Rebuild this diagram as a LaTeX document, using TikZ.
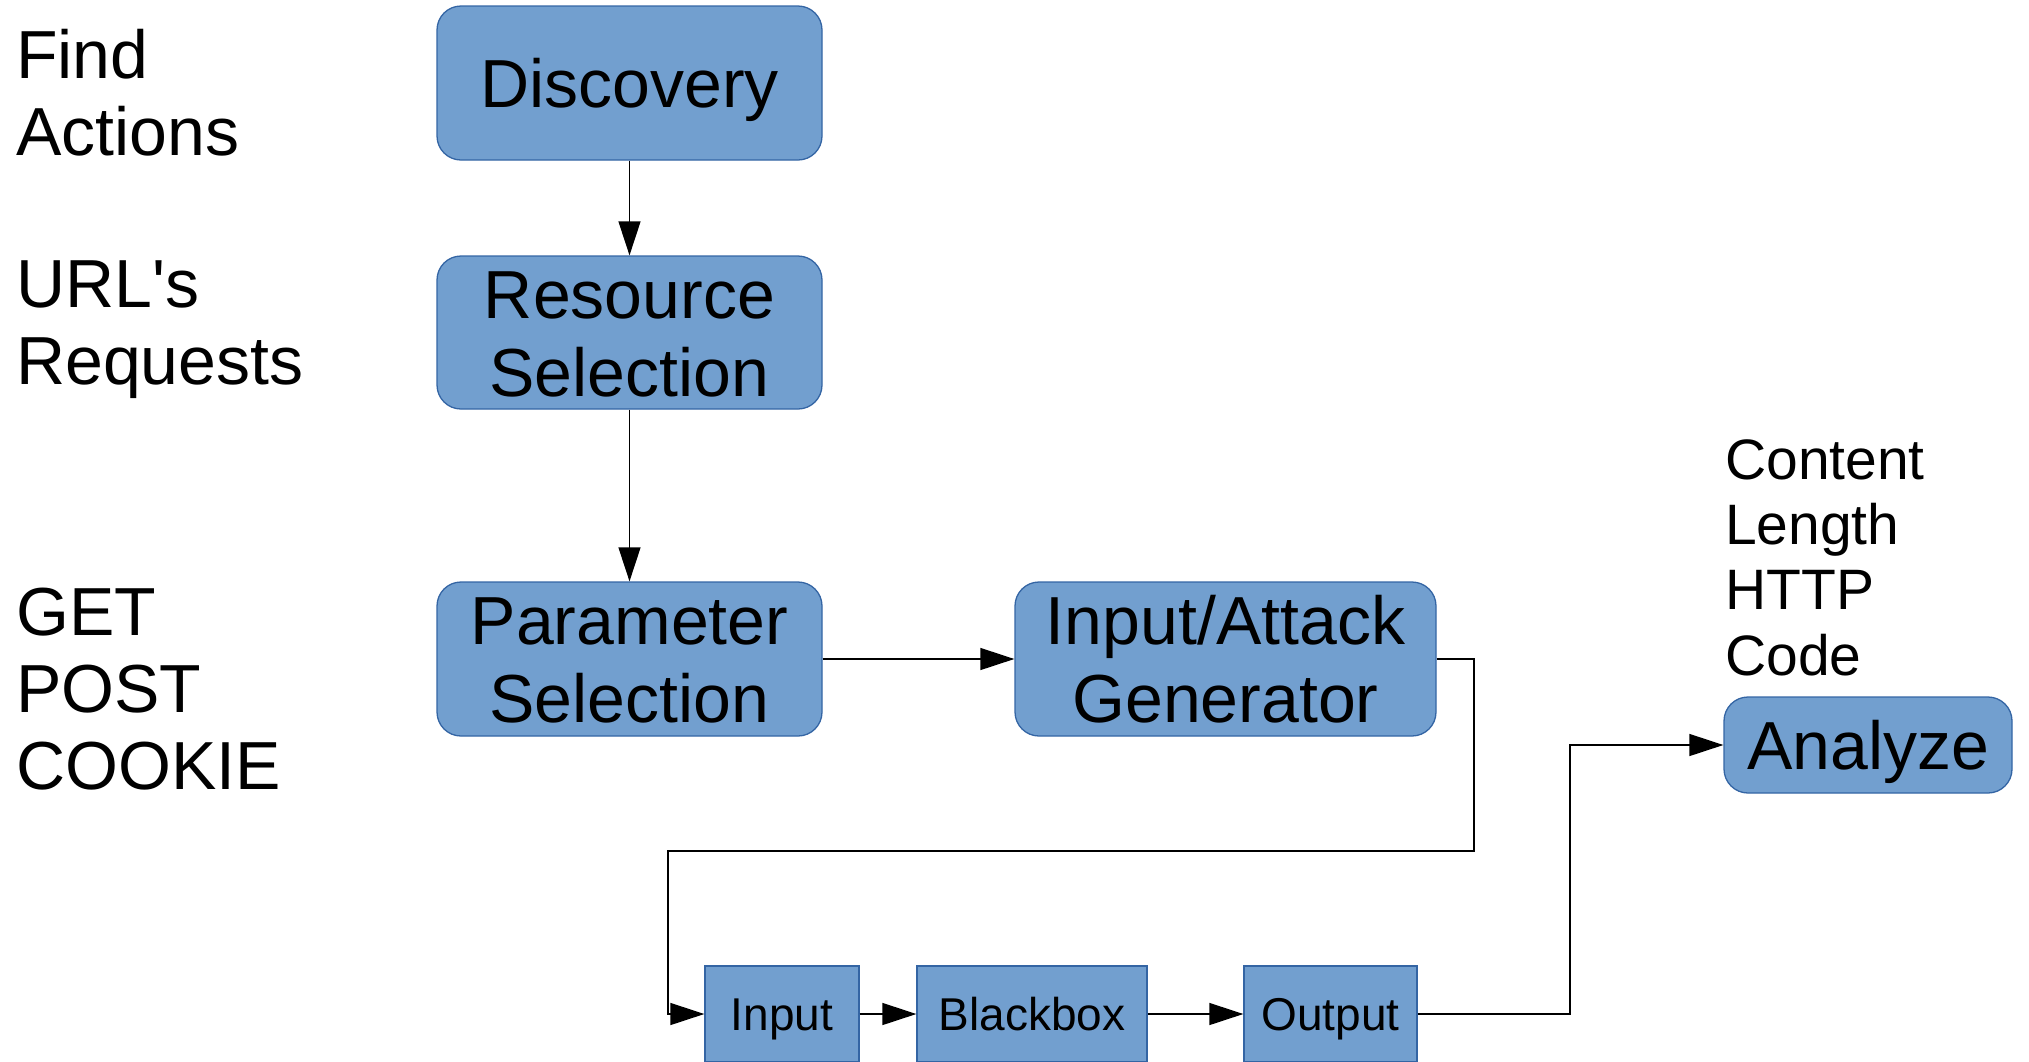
\documentclass[tikz,border=0pt]{standalone}
\usepackage{fontspec}
\setmainfont{Liberation Sans}[Ligatures=TeXOff]
\usetikzlibrary{arrows.meta}
\definecolor{boxfill}{HTML}{729FCF}
\definecolor{boxline}{HTML}{3465A4}
\begin{document}
\begin{tikzpicture}[x=1pt,y=-1pt,
  stage/.style={draw=boxline, fill=boxfill, line width=1.3pt, rounded corners=24pt,
    inner sep=0pt, align=center, font=\fontsize{68}{78}\selectfont,
    text height=49pt, text depth=0pt},
  twoline/.style={text height=127pt},
  block/.style={draw=boxline, fill=boxfill, line width=1.3pt, inner sep=0pt,
    minimum height=96pt, font=\fontsize{46}{54}\selectfont,
    text height=33pt, text depth=0pt},
  note/.style={inner sep=0pt, anchor=base west, align=left,
    font=\fontsize{68}{77}\selectfont},
  smallnote/.style={inner sep=0pt, anchor=base west, align=left,
    font=\fontsize{57}{65.3}\selectfont},
  flow/.style={line width=1.3pt, -{Triangle[length=34pt,width=22pt]}}]
\useasboundingbox (0,0) rectangle (2029,1061);

% side notes (placed by the baseline of their last line)
\node[note] (n1) at (16,155) {Find\\Actions};
\node[note] (n2) at (16,384) {URL's\\Requests};
\node[note] (n3) at (16,789) {GET\\POST\\COOKIE};
\node[smallnote] (n4) at (1725,675) {Content\\Length\\HTTP\\Code};

% main stages
\node[stage, minimum width=385pt, minimum height=154pt] (disc) at (629.5,83) {Discovery};
\node[stage, twoline, minimum width=385pt, minimum height=153pt] (res) at (629.5,332.5) {Resource\\Selection};
\node[stage, twoline, minimum width=385pt, minimum height=154pt] (par) at (629.5,659) {Parameter\\Selection};
\node[stage, twoline, minimum width=421pt, minimum height=154pt] (iag) at (1225.5,659) {Input/Attack\\Generator};
\node[stage, minimum width=288pt, minimum height=96pt] (ana) at (1868,745) {Analyze};

% black-box test row
\node[block, minimum width=154pt] (inp) at (782,1014) {Input};
\node[block, minimum width=230pt] (blk) at (1032,1014) {Blackbox};
\node[block, minimum width=173pt] (out) at (1330.5,1014) {Output};

% connectors
\coordinate (r1) at (1474,851);
\coordinate (l1) at (668,851);
\coordinate (m1) at (1570,1014);

\draw[flow] (disc) -- (res);
\draw[flow] (res) -- (par);
\draw[flow] (par) -- (iag);
\draw[flow] (iag.east) -| (r1) -- (l1) |- (inp.west);
\draw[flow] (inp) -- (blk);
\draw[flow] (blk) -- (out);
\draw[flow] (out.east) -- (m1) |- (ana.west);
\end{tikzpicture}
\end{document}
